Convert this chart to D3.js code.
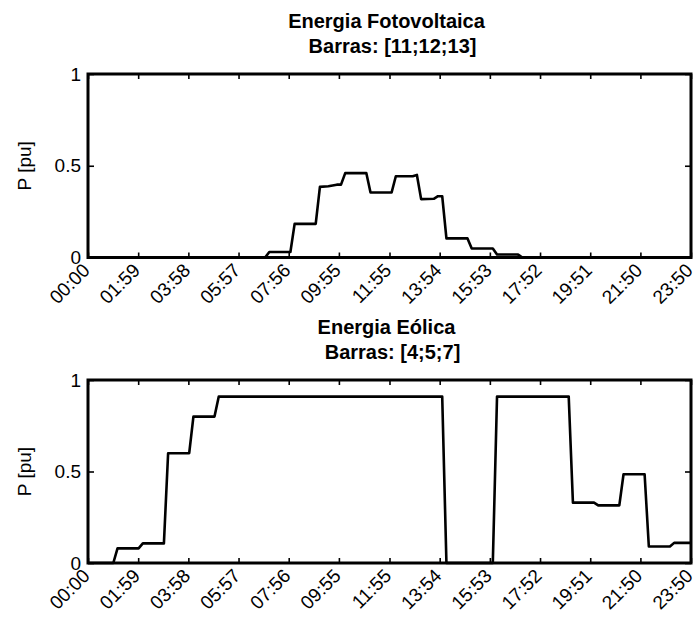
<!DOCTYPE html>
<html>
<head>
<meta charset="utf-8">
<script src="https://cdn.jsdelivr.net/npm/d3@7"></script>
<style>
  body { margin: 0; background: white; }
  text { font-family: "Liberation Sans", Arial, sans-serif; fill: black; }
</style>
</head>
<body>
<div id="chart"></div>
<script>
// tick labels on the time axis (same for both panels)
const timeLabels = ["00:00", "01:59", "03:58", "05:57", "07:56", "09:55", "11:55",
  "13:54", "15:53", "17:52", "19:51", "21:50", "23:50"]
const yTicks = [0, 0.5, 1]

// photovoltaic power, vertices of the plotted line
const pvTimes = ["00:00", "07:00", "07:10", "08:00", "08:10", "09:00", "09:10", "09:30",
  "09:50", "10:00", "10:10", "11:00", "11:10", "12:00", "12:10", "12:50", "13:00",
  "13:10", "13:40", "13:50", "14:00", "14:10", "15:00", "15:10", "16:00", "16:10",
  "17:00", "17:10", "23:50"]
const pvValues = [0, 0, 0.03, 0.03, 0.183, 0.183, 0.385, 0.388,
  0.397, 0.397, 0.46, 0.46, 0.354, 0.354, 0.443, 0.443, 0.45,
  0.318, 0.32, 0.334, 0.334, 0.104, 0.104, 0.049, 0.049, 0.016,
  0.016, 0, 0]

// wind power
const windTimes = ["00:00", "01:00", "01:10", "02:00", "02:10", "03:00", "03:10", "04:00",
  "04:10", "05:00", "05:10", "14:00", "14:10", "16:00", "16:10", "19:00", "19:10",
  "20:00", "20:10", "21:00", "21:10", "22:00", "22:10", "23:00", "23:10", "23:50"]
const windValues = [0, 0, 0.08, 0.08, 0.107, 0.107, 0.6, 0.6,
  0.8, 0.8, 0.909, 0.909, 0, 0, 0.909, 0.909, 0.33,
  0.33, 0.315, 0.315, 0.485, 0.485, 0.09, 0.09, 0.11, 0.11]

const W = 696, H = 617
const left = 88, right = 691
const fs = "19px"

function toMin(s) {
    let p = s.split(":")
    return +p[0] * 60 + +p[1]
}

let svg = d3.select("#chart").append("svg")
    .attr("width", W)
    .attr("height", H)
    .style("background", "white")

let x = d3.scaleLinear()
    .domain([0, toMin(timeLabels[timeLabels.length - 1])])
    .range([left, right])

function panel(top, bottom, title1, title2, times, values) {
    let y = d3.scaleLinear().domain([0, 1]).range([bottom, top])
    let g = svg.append("g")

    // titles (second line sits a bit to the right, like the original)
    let cx = (left + right) / 2 - 3
    g.append("text")
        .attr("x", cx)
        .attr("y", top - 46)
        .attr("text-anchor", "middle")
        .style("font-size", "20px")
        .style("font-weight", "bold")
        .text(title1)
    g.append("text")
        .attr("x", cx + 6)
        .attr("y", top - 21)
        .attr("text-anchor", "middle")
        .style("font-size", "20px")
        .style("font-weight", "bold")
        .text(title2)

    // data line
    let line = d3.line()
        .x((d, i) => x(toMin(times[i])))
        .y(d => y(d))
    g.append("path")
        .datum(values)
        .attr("d", line)
        .attr("fill", "none")
        .attr("stroke", "black")
        .attr("stroke-width", 2.6)
        .attr("stroke-linejoin", "round")

    // ticks, inside the box on all four sides
    let tickPos = timeLabels.map(toMin)
    let xBottom = d3.axisBottom(x).tickValues(tickPos).tickSize(-5).tickFormat("")
    let xTop = d3.axisTop(x).tickValues(tickPos).tickSize(-5).tickFormat("")
    let yLeft = d3.axisLeft(y).tickValues(yTicks).tickSize(-6).tickFormat("")
    let yRight = d3.axisRight(y).tickValues(yTicks).tickSize(-6).tickFormat("")
    let axes = [
        g.append("g").attr("transform", `translate(0,${bottom})`).call(xBottom),
        g.append("g").attr("transform", `translate(0,${top})`).call(xTop),
        g.append("g").attr("transform", `translate(${left},0)`).call(yLeft),
        g.append("g").attr("transform", `translate(${right},0)`).call(yRight)
    ]
    axes.forEach(a => {
        a.select(".domain").remove()
        a.selectAll("line").attr("stroke", "black").attr("stroke-width", 1.6)
    })

    // box
    g.append("rect")
        .attr("x", left)
        .attr("y", top)
        .attr("width", right - left)
        .attr("height", bottom - top)
        .attr("fill", "none")
        .attr("stroke", "black")
        .attr("stroke-width", 3)

    // y tick labels
    g.selectAll(".ylab").data(yTicks).enter().append("text")
        .attr("class", "ylab")
        .attr("x", left - 7)
        .attr("y", d => y(d))
        .attr("dy", "0.35em")
        .attr("text-anchor", "end")
        .style("font-size", fs)
        .text(d => d)

    // rotated time labels
    g.selectAll(".xlab").data(timeLabels).enter().append("text")
        .attr("class", "xlab")
        .attr("transform", d => `translate(${x(toMin(d)) + 3},${bottom + 14}) rotate(-45)`)
        .attr("text-anchor", "end")
        .style("font-size", fs)
        .text(d => d)

    g.append("text")
        .attr("transform", `translate(24,${(top + bottom) / 2}) rotate(-90)`)
        .attr("text-anchor", "middle")
        .attr("dy", "0.35em")
        .style("font-size", fs)
        .text("P [pu]")
}

panel(74, 257.5, "Energia Fotovoltaica", "Barras: [11;12;13]", pvTimes, pvValues)
panel(380, 563, "Energia Eólica", "Barras: [4;5;7]", windTimes, windValues)
</script>
</body>
</html>
